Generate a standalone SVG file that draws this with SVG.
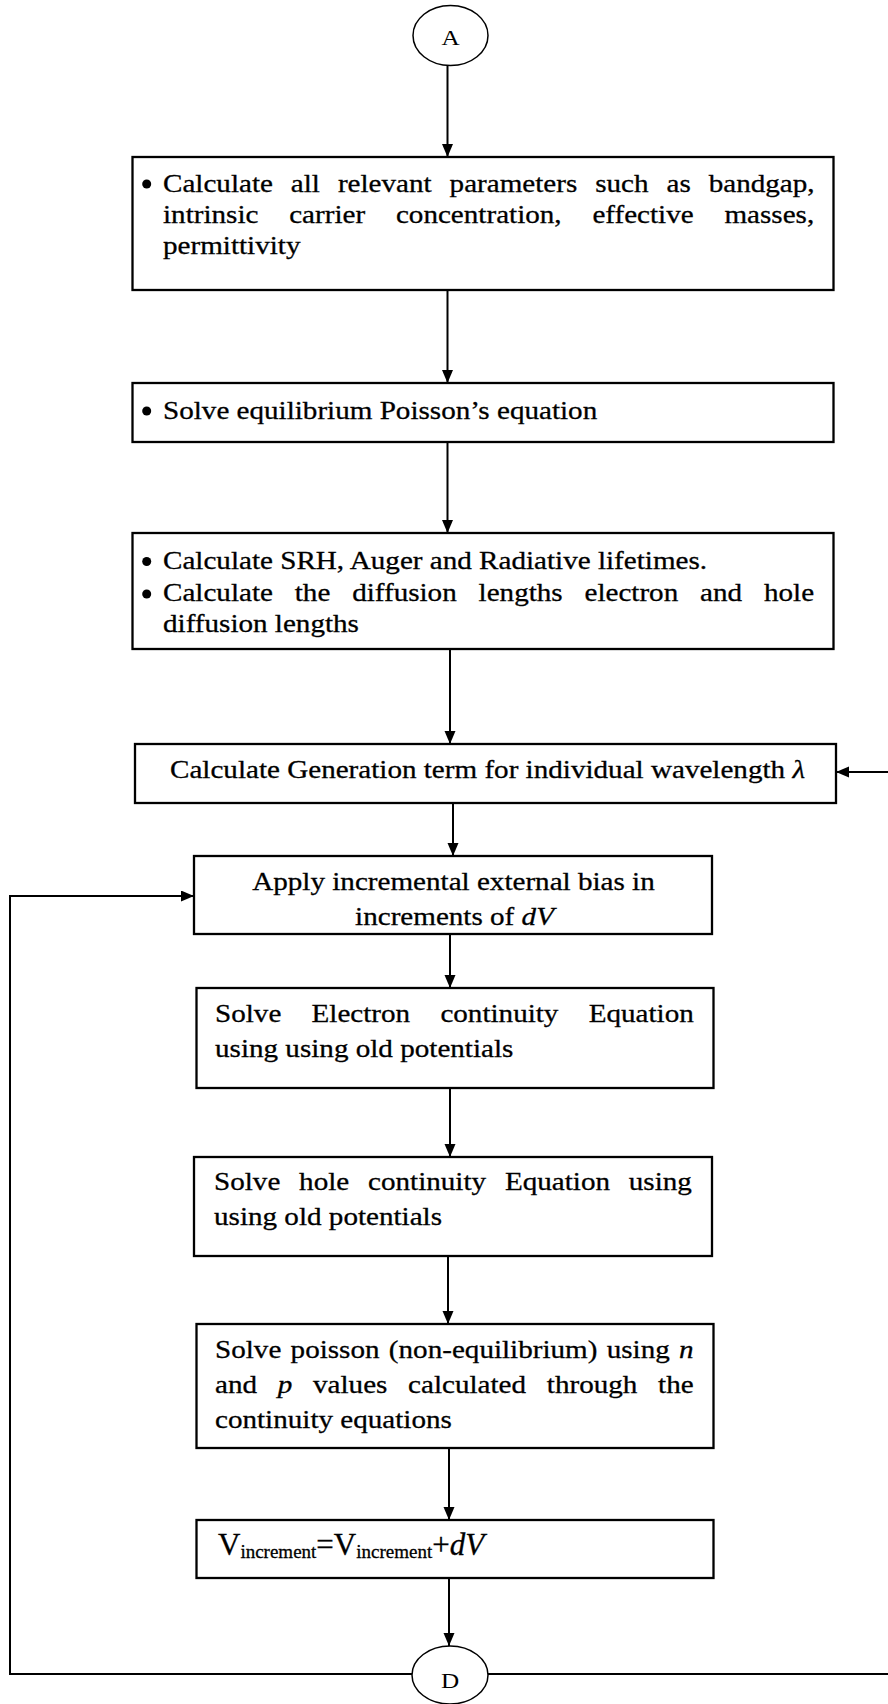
<svg xmlns="http://www.w3.org/2000/svg" width="888" height="1704" viewBox="0 0 888 1704">
<defs>
<style>
.t{font-family:"Liberation Serif","Times New Roman",serif;font-size:26px;fill:#000;stroke:#000;stroke-width:0.3}
.v{font-family:"Liberation Serif","Times New Roman",serif;font-size:31px;fill:#000;stroke:#000;stroke-width:0.3}
.c{font-family:"Liberation Serif","Times New Roman",serif;font-size:21px;fill:#000;text-anchor:middle}
.box{fill:#fff;stroke:#000;stroke-width:2.3}
.circ{fill:#fff;stroke:#000;stroke-width:1.5}
.ln{fill:none;stroke:#000;stroke-width:2}
.ar{marker-end:url(#ah)}
.dot{fill:#000}
</style>
<marker id="ah" markerUnits="userSpaceOnUse" markerWidth="14" markerHeight="12" refX="13" refY="5.5" orient="auto">
<path d="M0,0 L13,5.5 L0,11 z" fill="#000"/>
</marker>
</defs>
<rect width="888" height="1704" fill="#fff"/>

<g id="connectors">
<path class="ln ar" d="M447.5,65 V157"/>
<path class="ln ar" d="M447.5,290 V383"/>
<path class="ln ar" d="M447.5,442 V533"/>
<path class="ln ar" d="M450,649 V744"/>
<path class="ln ar" d="M453,803 V856"/>
<path class="ln ar" d="M450,934 V988"/>
<path class="ln ar" d="M450,1088 V1157"/>
<path class="ln ar" d="M448,1256 V1324"/>
<path class="ln ar" d="M449,1448 V1520"/>
<path class="ln ar" d="M449,1578 V1646"/>
<path class="ln ar" d="M412,1674 H10 V896 H194"/>
<path class="ln ar" d="M488,1674 H900 V772 H836"/>
</g>

<g id="nodeA">
<ellipse class="circ" cx="450.5" cy="35.5" rx="37.5" ry="30"/>
<text class="c" transform="matrix(1.2 0 0 1 450.5 45)">A</text>
</g>

<g id="box1">
<rect class="box" x="132.5" y="157" width="701" height="133"/>
<circle class="dot" cx="146.7" cy="184" r="4.5"/>
<text class="t" transform="matrix(1.12 0 0 1 163 192)" word-spacing="9.53">Calculate all relevant parameters such as bandgap,</text>
<text class="t" transform="matrix(1.12 0 0 1 163 223)" word-spacing="21">intrinsic carrier concentration, effective masses,</text>
<text class="t" transform="matrix(1.12 0 0 1 163 254)">permittivity</text>
</g>

<g id="box2">
<rect class="box" x="132.5" y="383" width="701" height="59"/>
<circle class="dot" cx="146.7" cy="411" r="4.5"/>
<text class="t" transform="matrix(1.12 0 0 1 163 418.5)">Solve equilibrium Poisson’s equation</text>
</g>

<g id="box3">
<rect class="box" x="132.5" y="533" width="701" height="116"/>
<circle class="dot" cx="146.7" cy="561.5" r="4.5"/>
<text class="t" transform="matrix(1.12 0 0 1 163 568.5)">Calculate SRH, Auger and Radiative lifetimes.</text>
<circle class="dot" cx="146.7" cy="594" r="4.5"/>
<text class="t" transform="matrix(1.12 0 0 1 163 601)" word-spacing="13">Calculate the diffusion lengths electron and hole</text>
<text class="t" transform="matrix(1.12 0 0 1 163 632)">diffusion lengths</text>
</g>

<g id="box4">
<rect class="box" x="135" y="744" width="701" height="59"/>
<text class="t" transform="matrix(1.12 0 0 1 170 778)">Calculate Generation term for individual wavelength <tspan font-style="italic">λ</tspan></text>
</g>

<g id="box5">
<rect class="box" x="194" y="856" width="518" height="78"/>
<text class="t" text-anchor="middle" transform="matrix(1.12 0 0 1 453.5 890)">Apply incremental external bias in</text>
<text class="t" text-anchor="middle" transform="matrix(1.12 0 0 1 454.5 925)">increments of <tspan font-style="italic">dV</tspan></text>
</g>

<g id="box6">
<rect class="box" x="196.5" y="988" width="517" height="100"/>
<text class="t" transform="matrix(1.12 0 0 1 215 1022)" word-spacing="20.5">Solve Electron continuity Equation</text>
<text class="t" transform="matrix(1.12 0 0 1 215 1057)">using using old potentials</text>
</g>

<g id="box7">
<rect class="box" x="194" y="1157" width="518" height="99"/>
<text class="t" transform="matrix(1.12 0 0 1 214 1190)" word-spacing="10.3">Solve hole continuity Equation using</text>
<text class="t" transform="matrix(1.12 0 0 1 214 1225)">using old potentials</text>
</g>

<g id="box8">
<rect class="box" x="196.5" y="1324" width="517" height="124"/>
<text class="t" transform="matrix(1.12 0 0 1 215 1358)" word-spacing="1.8">Solve poisson (non-equilibrium) using <tspan font-style="italic">n</tspan></text>
<text class="t" transform="matrix(1.12 0 0 1 215 1393)" word-spacing="12">and <tspan font-style="italic">p</tspan> values calculated through the</text>
<text class="t" transform="matrix(1.12 0 0 1 215 1428)">continuity equations</text>
</g>

<g id="box9">
<rect class="box" x="196.5" y="1520" width="517" height="58"/>
<text class="v" x="218" y="1555">V<tspan style="font-size:19px" dy="2.5">increment</tspan><tspan dy="-2.5">=V</tspan><tspan style="font-size:19px" dy="2.5">increment</tspan><tspan dy="-2.5">+</tspan><tspan font-style="italic">dV</tspan></text>
</g>

<g id="nodeD">
<ellipse class="circ" cx="450" cy="1675" rx="38" ry="29"/>
<text class="c" transform="matrix(1.2 0 0 1 450 1688)">D</text>
</g>
</svg>
